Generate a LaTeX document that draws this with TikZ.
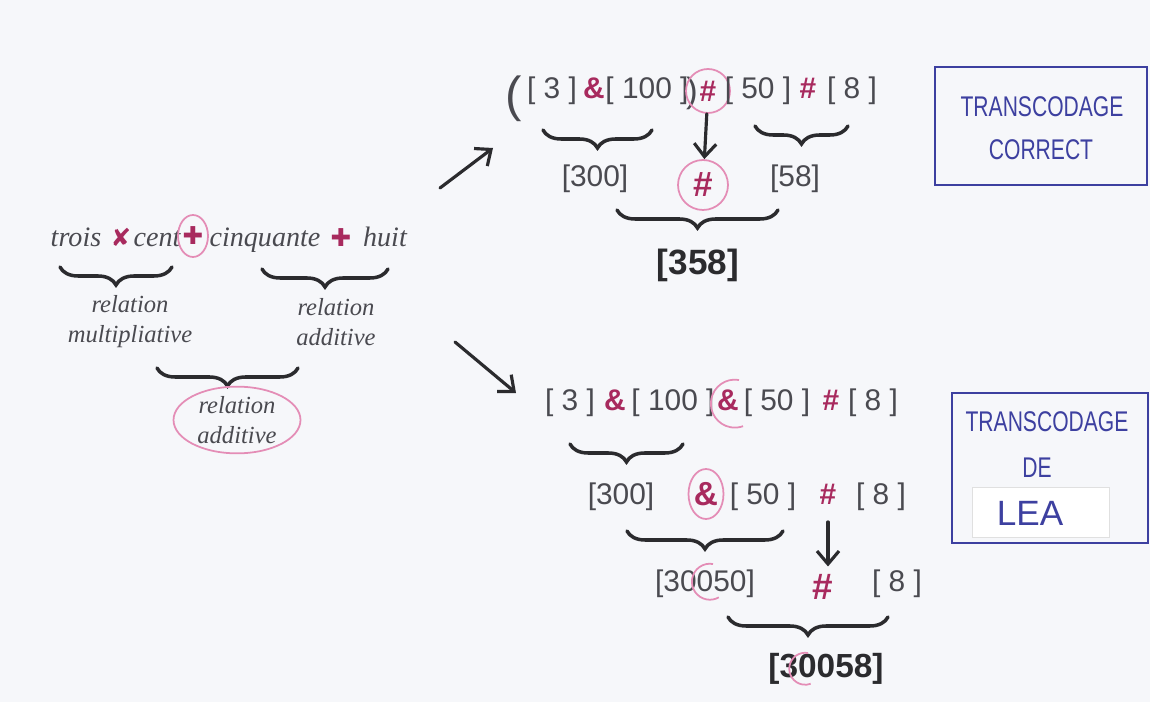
\documentclass[tikz,border=0pt]{standalone}
\usepackage{fontspec}
\setmainfont{Liberation Sans}
\newfontfamily\cursivefont{Liberation Serif}
\newfontfamily\dingfont{DejaVu Sans}
\usepackage{xcolor}
\definecolor{cPaper}{HTML}{F6F7FA}
\definecolor{cInk}{HTML}{2B2B2E}
\definecolor{cPencil}{HTML}{4A4A50}
\definecolor{cRed}{HTML}{A82A5E}
\definecolor{cPink}{HTML}{E48DB6}
\definecolor{cBlue}{HTML}{3D40A0}
\usetikzlibrary{arrows.meta, decorations.pathreplacing, shapes.geometric}
\newcommand\tallcaps[1]{\scalebox{1}[1.35]{#1}}

\begin{document}
\begin{tikzpicture}[x=0.02cm, y=-0.02cm,
    word/.style={inner sep=0pt, anchor=base, text=cPencil,
                 font=\cursivefont\itshape\fontsize{16}{18}\selectfont},
    note/.style={inner sep=0pt, align=center, text=cPencil,
                 font=\cursivefont\itshape\fontsize{14}{17}\selectfont},
    num/.style={inner sep=0pt, anchor=base, text=cPencil,
                font=\fontsize{17}{20}\selectfont},
    res/.style={inner sep=0pt, anchor=base, text=cInk,
                font=\bfseries\fontsize{19}{22}\selectfont},
    sym/.style={inner sep=0pt, anchor=base, text=cRed,
                font=\bfseries\fontsize{17}{20}\selectfont},
    ding/.style={inner sep=0pt, anchor=base, text=cRed,
                 font=\dingfont\fontsize{14}{16}\selectfont},
    ring/.style={draw=cPink, line width=1pt},
    brc/.style={decorate, decoration={brace, mirror, amplitude=0.36cm},
                draw=cInk, line width=2pt, line cap=round},
    arr/.style={-{Straight Barb[length=2.6mm, width=4.4mm]}, draw=cInk,
                line width=1.8pt, line cap=round},
    frame/.style={draw=cBlue, line width=0.9pt, inner sep=0pt},
    caps/.style={inner sep=0pt, anchor=base, text=cBlue,
                 font=\fontsize{12}{14}\selectfont}
]
\fill[cPaper] (0,0) rectangle (1150,702);
\useasboundingbox (0,0) rectangle (1150,702);

% phrase orale
\node[word] (trois) at (76,247) {trois};
\node[ding] (foisA) at (121,247) {✘};
\node[word] (cent) at (157,247) {cent};
\node[ding, ring, ellipse, minimum width=0.6cm, minimum height=0.84cm,
      anchor=center] (plusA) at (193,236) {✚};
\node[word] (cinquante) at (265,247) {cinquante};
\node[ding] (plusB) at (341,247) {✚};
\node[word] (huit) at (385,247) {huit};

\draw[brc] (60,267) -- (172,267);
\draw[brc] (262,269) -- (388,269);
\node[note] (relMul) at (130,322) {relation\\multipliative};
\node[note] (relAddA) at (336,322) {relation\\additive};
\draw[brc] (157,368) -- (298,368);
\node[note, ring, ellipse, minimum width=2.54cm, minimum height=1.12cm]
     (relAddB) at (237,420) {relation\\additive};

\coordinate (upTail) at (440,188);
\coordinate (upHead) at (493,148);
\coordinate (downTail) at (455,342);
\coordinate (downHead) at (516,393);
\draw[arr] (upTail) -- (upHead);
\draw[arr] (downTail) -- (downHead);

% transcodage correct
\node[num, font=\fontsize{28}{30}\selectfont] (parOpen) at (514,112) {(};
\node[num] (topTrois) at (552,99) {[ 3 ]};
\node[sym] (topEtA) at (594,99) {\&};
\node[num] (topCent) at (647,99) {[ 100 ]};
\node[num, font=\fontsize{20}{22}\selectfont] (parClose) at (692,103) {)};
\node[sym, ring, circle, minimum size=0.88cm, anchor=center] (topDiezA) at (708,91) {\#};
\node[num] (topCinq) at (758,99) {[ 50 ]};
\node[sym] (topDiezB) at (808,99) {\#};
\node[num] (topHuit) at (852,99) {[ 8 ]};

\draw[brc] (543,130) -- (652,130);
\draw[brc] (755,126) -- (848,126);
\node[num] (topTroisCents) at (595,187) {[300]};
\node[sym, ring, circle, minimum size=1.0cm, anchor=center,
      font=\bfseries\fontsize{20}{22}\selectfont] (topDiezC) at (703,185) {\#};
\node[num] (topCinqHuit) at (795,187) {[58]};
\draw[arr] (topDiezA) -- (topDiezC);

\draw[brc] (617,210) -- (778,210);
\node[res, font=\bfseries\fontsize{20}{24}\selectfont] (topRes) at (698,275) {[358]};

\node[frame, minimum width=4.24cm, minimum height=2.36cm] (boxCorrect) at (1041,126) {};
\node[caps] (capCorrectA) at (1042,117) {\tallcaps{TRANSCODAGE}};
\node[caps] (capCorrectB) at (1041,160) {\tallcaps{CORRECT}};

% transcodage de Lea
\node[num] (botTrois) at (570,411) {[ 3 ]};
\node[sym] (botEtA) at (615,411) {\&};
\node[num] (botCent) at (673,411) {[ 100 ]};
\node[sym] (botEtB) at (728,411) {\&};
\draw[cPink, line width=1pt] (739,380) arc[start angle=80, end angle=290, radius=0.48cm];
\node[num] (botCinq) at (777,411) {[ 50 ]};
\node[sym] (botDiezA) at (831,411) {\#};
\node[num] (botHuit) at (873,411) {[ 8 ]};

\draw[brc] (570,444) -- (683,444);
\node[num] (midTroisCents) at (621,504) {[300]};
\node[sym, ring, ellipse, minimum width=0.7cm, minimum height=1.0cm, anchor=center,
      font=\bfseries\fontsize{19}{22}\selectfont] (midEt) at (706,494) {\&};
\node[num] (midCinq) at (763,504) {[ 50 ]};
\node[sym] (midDiez) at (828,504) {\#};
\node[num] (midHuit) at (881,504) {[ 8 ]};

\draw[brc] (627,531) -- (783,531);
\draw[arr, shorten <=10pt, shorten >=2pt] (midDiez.south) -- (midDiez.south |- 0,570);
\node[num] (lowNombre) at (705,591) {[30050]};
\draw[cPink, line width=1pt] (713,564) arc[start angle=80, end angle=300, radius=0.36cm];
\node[sym, font=\bfseries\fontsize{21}{24}\selectfont] (lowDiez) at (823,600) {\#};
\node[num] (lowHuit) at (897,591) {[ 8 ]};

\draw[brc] (728,617) -- (888,617);
\node[res] (botRes) at (826,677) {[30058]};
\draw[cPink, line width=1pt] (808,653) arc[start angle=80, end angle=290, radius=0.32cm];

\node[frame, minimum width=3.92cm, minimum height=3.0cm] (boxLea) at (1050,468) {};
\node[caps] (capLeaA) at (1047,432) {\tallcaps{TRANSCODAGE}};
\node[caps] (capLeaB) at (1037,478) {\tallcaps{DE}};
\node[fill=white, draw=black!12, line width=0.4pt, minimum width=2.74cm,
      minimum height=1.0cm] (patch) at (1041,512) {};
\node[caps, font=\fontsize{20}{22}\selectfont] (capLeaC) at (1030,525) {LEA};
\end{tikzpicture}
\end{document}
